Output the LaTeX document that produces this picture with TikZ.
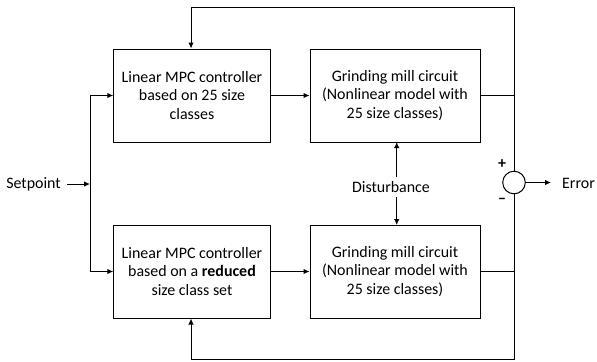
\documentclass[tikz,border=0pt]{standalone}
\usepackage{fontspec}
\setmainfont{Carlito}
\usetikzlibrary{arrows.meta}
\begin{document}
\begin{tikzpicture}[x=1bp,y=-1bp,
  every node/.style={font=\fontsize{16}{19}\selectfont},
  block/.style={draw, line width=1bp, minimum height=93bp, align=center, inner sep=0pt},
  wire/.style={line width=1bp},
  arr/.style={line width=1bp, -{Latex[length=6bp,width=5.5bp]}},
  lbl/.style={inner sep=0pt}]
\useasboundingbox (0,0) rectangle (597,361);

% controller and plant blocks
\node[block, minimum width=156.5bp] (ctrlA) at (192,95.5) {Linear MPC controller\\based on 25 size\\classes};
\node[block, minimum width=170bp] (millA) at (395,95.5) {Grinding mill circuit\\(Nonlinear model with\\25 size classes)};
\node[block, minimum width=156.5bp] (ctrlB) at (192,271.5) {Linear MPC controller\\based on a \textbf{reduced}\\size class set};
\node[block, minimum width=170bp] (millB) at (395,271.5) {Grinding mill circuit\\(Nonlinear model with\\25 size classes)};

% summing junction and signals
\node[draw, circle, line width=1bp, minimum size=22.6bp, inner sep=0pt] (sum) at (514,182.5) {};
\node[lbl] (plus) at (502,164) {\textbf{+}};
\node[lbl] (minus) at (502,201) {\textbf{–}};
\node[lbl, anchor=east] (err) at (595,183) {Error};
\node[lbl, anchor=east] (sp) at (61,184) {Setpoint};
\node[lbl] (dist) at (391,187) {Disturbance};

\coordinate (split) at (90,184);
\coordinate (topR) at (514,7.5);
\coordinate (topL) at (191,7.5);
\coordinate (botR) at (514,359);
\coordinate (botL) at (191,359);
\coordinate (errEnd) at (551,182.5);

% setpoint distribution
\draw[arr] (sp.east) ++(6,0) -- (split);
\draw[arr] (split) |- (ctrlA.west);
\draw[arr] (split) |- (ctrlB.west);

% controller to plant
\draw[arr] (ctrlA.east) -- (millA.west);
\draw[arr] (ctrlB.east) -- (millB.west);

% disturbance into both plants
\draw[arr] (dist.north -| 396.7,0) ++(0,-4) -- (396.7,142);
\draw[arr] (dist.south -| 396.7,0) ++(0,4) -- (396.7,225);

% plant outputs and feedback loops
\draw[wire] (millA.east) -- (millA.east -| sum);
\draw[wire] (millB.east) -- (millB.east -| sum);
\draw[wire] (sum.north) -- (topR) -- (topL);
\draw[arr] (topL) -- (ctrlA.north -| topL);
\draw[wire] (sum.south) -- (botR) -- (botL);
\draw[arr] (botL) -- (ctrlB.south -| botL);

% error output
\draw[arr] (sum.east) -- (errEnd);
\end{tikzpicture}
\end{document}
